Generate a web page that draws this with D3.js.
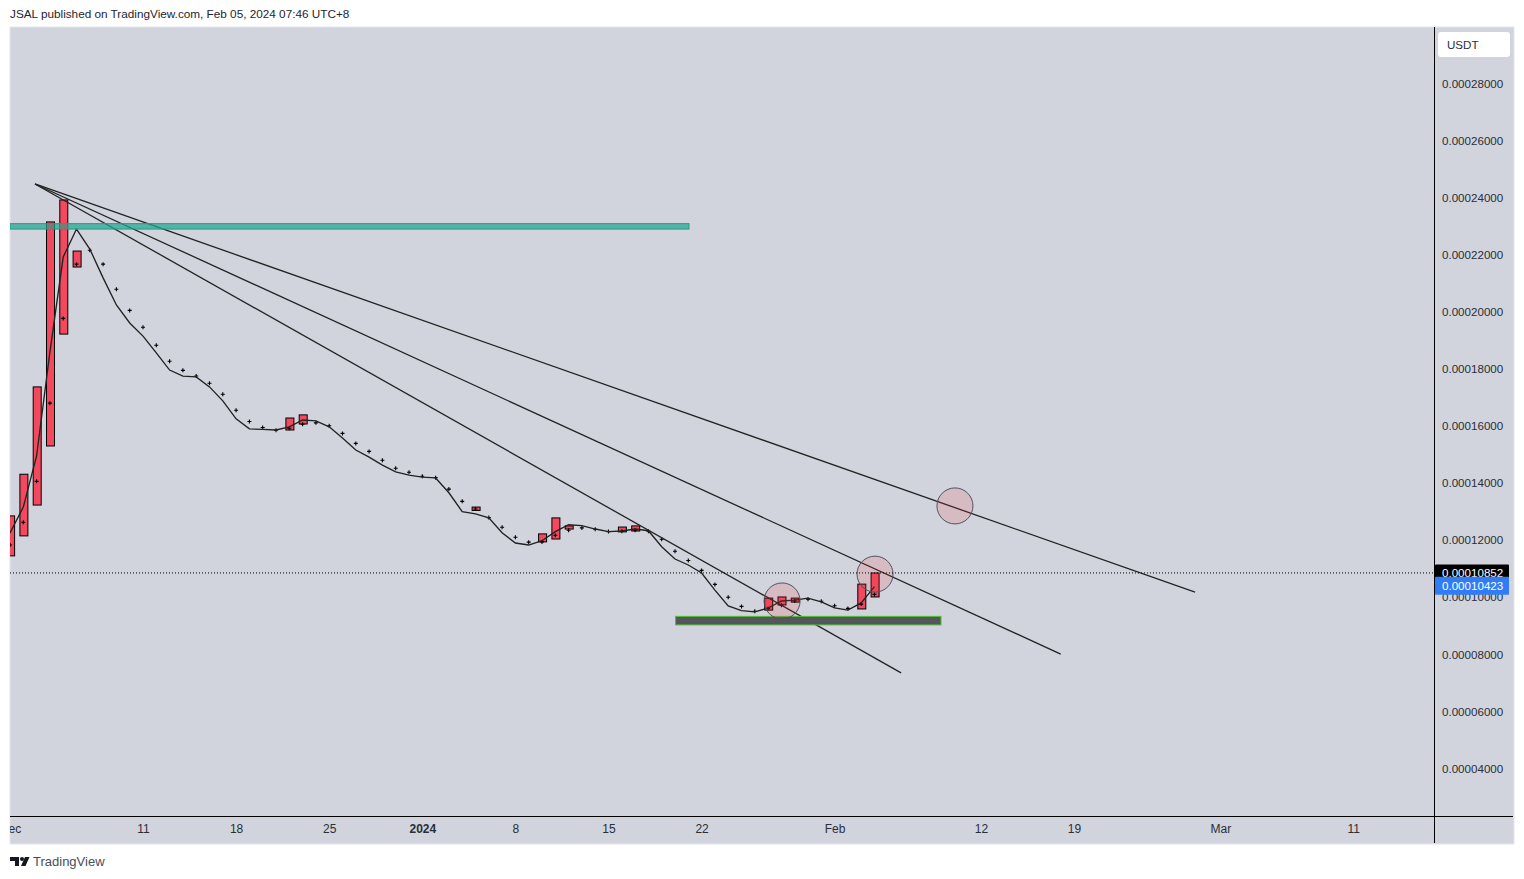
<!DOCTYPE html>
<html>
<head>
<meta charset="utf-8">
<script src="https://cdn.jsdelivr.net/npm/d3@7"></script>
<style>
  html, body { margin: 0; padding: 0; background: #fff; overflow: hidden; }
  text { font-family: "Liberation Sans", sans-serif; }
</style>
</head>
<body>
<div id="chart"></div>
<script>
// prices below are in units of 1e-5 USDT, days are counted from Dec 1 2023
var lineValues = [12.25,13.16,14.95,18.59,21.92,22.90,22.20,21.19,20.24,19.61,
    19.15,18.56,17.96,17.75,17.72,17.37,16.88,16.25,15.90,15.88,
    15.86,15.97,16.21,16.18,15.97,15.58,15.16,14.91,14.63,14.39,
    14.28,14.21,14.18,13.66,13.00,12.92,12.78,12.26,11.90,11.83,
    11.98,12.30,12.54,12.51,12.39,12.30,12.32,12.39,12.33,11.77,
    11.34,11.13,10.85,10.25,9.70,9.53,9.49,9.62,9.87,9.90,
    9.97,9.84,9.63,9.55,9.80,10.37];

var crossValues = [11.83,12.63,14.06,16.80,19.77,21.67,22.16,21.67,20.79,20.05,
    19.46,18.83,18.27,17.95,17.75,17.50,17.11,16.55,16.16,15.95,
    15.85,15.92,16.06,16.11,16.01,15.74,15.39,15.11,14.80,14.52,
    14.38,14.24,14.19,13.79,13.36,13.09,12.79,12.45,12.10,11.93,
    11.94,12.17,12.35,12.43,12.38,12.30,12.31,12.35,12.31,12.03,
    11.61,11.29,10.94,10.45,10.00,9.68,9.51,9.61,9.72,9.87,
    9.93,9.86,9.70,9.61,9.76,10.10];

var candleDays = [0,1,2,3,4,5,21,22,35,40,41,42,46,47,57,58,59,64,65];
var candleTops = [12.85,14.31,17.37,23.15,23.92,22.13,16.28,16.39,13.16,12.22,12.78,12.50,12.46,12.50,9.97,10.01,9.97,10.46,10.85];
var candleBottoms = [11.45,12.15,13.23,15.30,19.22,21.57,15.86,16.07,13.04,11.94,12.04,12.39,12.29,12.32,9.55,9.73,9.83,9.59,10.01];

var trendStart = [1.88, 24.48];
var trendEndDays = [67.0, 79.0, 89.1];
var trendEndPrices = [7.35, 8.01, 10.18];

var circleDays = [58.05, 65.04, 71.05];
var circlePrices = [9.87, 10.81, 13.20];

var resistanceBand = [0, 51.05, 23.09, 22.90];
var supportBand = [50.04, 70.0, 9.33, 9.03];

var priceTicks = [4,6,8,10,12,14,16,18,20,22,24,26,28];
var timeTickDays = [0,10,17,24,31,38,45,52,62,73,80,91,101];
var timeTickLabels = ['Dec','11','18','25','2024','8','15','22','Feb','12','19','Mar','11'];

var lastClose = 10.852;
var lastPrice = 10.423;

var start = Date.UTC(2023, 11, 1);
var dayMs = 86400000;
function dayDate(d) { return new Date(start + d * dayMs); }

var paneLeft = 10, paneRight = 1514, paneTop = 27, paneBottom = 844;
var plotRight = 1434, plotBottom = 816;

var x = d3.scaleUtc().domain([dayDate(0), dayDate(100)]).range([10, 1340]);
var y = d3.scaleLinear().domain([28, 4]).range([83.5, 768.5]);
function xd(d) { return x(dayDate(d)); }

var svg = d3.select('#chart').append('svg')
    .attr('width', 1524)
    .attr('height', 879)
    .style('display', 'block');

svg.append('text')
    .attr('x', 10).attr('y', 18)
    .attr('font-size', 11.75)
    .attr('fill', '#1f2430')
    .text('JSAL published on TradingView.com, Feb 05, 2024 07:46 UTC+8');

svg.append('rect')
    .attr('x', paneLeft).attr('y', paneTop)
    .attr('width', paneRight - paneLeft).attr('height', paneBottom - paneTop)
    .attr('fill', '#d1d4dc')
    .attr('stroke', '#e4e6eb');

var defs = svg.append('defs');
defs.append('clipPath').attr('id', 'plot').append('rect')
    .attr('x', paneLeft).attr('y', paneTop)
    .attr('width', plotRight - paneLeft).attr('height', plotBottom - paneTop);
defs.append('clipPath').attr('id', 'timeClip').append('rect')
    .attr('x', paneLeft).attr('y', plotBottom)
    .attr('width', plotRight - paneLeft).attr('height', paneBottom - plotBottom);
defs.append('clipPath').attr('id', 'bandClip').append('rect')
    .attr('x', xd(resistanceBand[0])).attr('y', y(resistanceBand[2]))
    .attr('width', xd(resistanceBand[1]) - xd(resistanceBand[0]))
    .attr('height', y(resistanceBand[3]) - y(resistanceBand[2]));

var plot = svg.append('g').attr('clip-path', 'url(#plot)');

// Candles
var candles = candleDays.map(function(d, i) {
    return {day: d, top: candleTops[i], bottom: candleBottoms[i]};
});
var candleWidth = 8;
var candleShift = 0.6;

plot.selectAll('.candle')
    .data(candles)
    .enter().append('rect')
    .attr('class', 'candle')
    .attr('x', d => xd(d.day) + candleShift - candleWidth / 2)
    .attr('y', d => y(d.top))
    .attr('width', candleWidth)
    .attr('height', d => y(d.bottom) - y(d.top))
    .attr('fill', '#f2495e')
    .attr('stroke', '#000')
    .attr('stroke-width', 1);

// Crosses
plot.selectAll('.cross')
    .data(crossValues)
    .enter().append('path')
    .attr('class', 'cross')
    .attr('transform', (d, i) => 'translate(' + xd(i) + ',' + y(d) + ')')
    .attr('d', 'M-2,0H2M0,-2V2')
    .attr('stroke', '#000')
    .attr('stroke-width', 1.1)
    .attr('fill', 'none');

// Moving average
plot.append('path')
    .datum(lineValues)
    .attr('d', d3.line().x((d, i) => xd(i)).y(d => y(d)))
    .attr('fill', 'none')
    .attr('stroke', '#222')
    .attr('stroke-width', 1.35);

// Trend lines
plot.selectAll('.trend')
    .data(trendEndDays)
    .enter().append('line')
    .attr('class', 'trend')
    .attr('x1', xd(trendStart[0]))
    .attr('y1', y(trendStart[1]))
    .attr('x2', d => xd(d))
    .attr('y2', (d, i) => y(trendEndPrices[i]))
    .attr('stroke', '#222')
    .attr('stroke-width', 1.3);

// Support and resistance boxes
plot.append('rect')
    .attr('x', xd(supportBand[0])).attr('y', y(supportBand[2]))
    .attr('width', xd(supportBand[1]) - xd(supportBand[0]))
    .attr('height', y(supportBand[3]) - y(supportBand[2]))
    .attr('fill', '#55555d')
    .attr('stroke', '#4cc42c')
    .attr('stroke-width', 1);

plot.append('rect')
    .attr('x', xd(resistanceBand[0])).attr('y', y(resistanceBand[2]))
    .attr('width', xd(resistanceBand[1]) - xd(resistanceBand[0]))
    .attr('height', y(resistanceBand[3]) - y(resistanceBand[2]))
    .attr('fill', 'rgba(38,166,146,0.72)')
    .attr('stroke', '#1d9c87')
    .attr('stroke-width', 1);

plot.append('g')
    .attr('clip-path', 'url(#bandClip)')
    .selectAll('rect')
    .data(candles)
    .enter().append('rect')
    .attr('x', d => xd(d.day) + candleShift - candleWidth / 2 + 0.5)
    .attr('y', d => y(d.top) + 1.5)
    .attr('width', candleWidth - 1)
    .attr('height', d => y(d.bottom) - y(d.top))
    .attr('fill', '#7d7a75');

// Circles
plot.selectAll('.mark')
    .data(circleDays)
    .enter().append('circle')
    .attr('class', 'mark')
    .attr('cx', d => xd(d))
    .attr('cy', (d, i) => y(circlePrices[i]))
    .attr('r', 18)
    .attr('fill', 'rgba(242,54,69,0.16)')
    .attr('stroke', '#50535e')
    .attr('stroke-width', 1);

// Last price dotted line
plot.append('line')
    .attr('x1', paneLeft).attr('x2', plotRight)
    .attr('y1', y(lastClose)).attr('y2', y(lastClose))
    .attr('stroke', '#000')
    .attr('stroke-width', 1)
    .attr('stroke-dasharray', '1,2');

// Axes
var xAxis = d3.axisBottom(x)
    .tickValues(timeTickDays.map(dayDate))
    .tickFormat((d, i) => timeTickLabels[i])
    .tickSize(0)
    .tickPadding(8.5);

var timeAxis = svg.append('g')
    .attr('clip-path', 'url(#timeClip)')
    .append('g')
    .attr('transform', 'translate(0,' + plotBottom + ')')
    .call(xAxis);
timeAxis.select('.domain').remove();
timeAxis.selectAll('text')
    .attr('font-size', 12)
    .attr('fill', '#2a2e39')
    .attr('font-weight', (d, i) => timeTickLabels[i] === '2024' ? 'bold' : null);

var yAxis = d3.axisRight(y)
    .tickValues(priceTicks)
    .tickFormat(d => (d * 1e-5).toFixed(8))
    .tickSize(0)
    .tickPadding(8);

var priceAxis = svg.append('g')
    .attr('transform', 'translate(' + plotRight + ',0)')
    .call(yAxis);
priceAxis.select('.domain').remove();
priceAxis.selectAll('text')
    .attr('font-size', 11.6)
    .attr('fill', '#2a2e39');

svg.append('line')
    .attr('x1', plotRight + 0.5).attr('x2', plotRight + 0.5)
    .attr('y1', paneTop).attr('y2', paneBottom - 1)
    .attr('stroke', '#000');
svg.append('line')
    .attr('x1', paneLeft).attr('x2', paneRight - 1)
    .attr('y1', plotBottom + 0.5).attr('y2', plotBottom + 0.5)
    .attr('stroke', '#000');

// Price labels, the blue one sits on top of the black one
function priceLabel(value, color) {
    var boxHeight = 18;
    var cy = y(value) + 0.5;
    svg.append('rect')
        .attr('x', plotRight + 1).attr('y', cy - boxHeight / 2)
        .attr('width', 74).attr('height', boxHeight)
        .attr('rx', 1)
        .attr('fill', color);
    svg.append('text')
        .attr('x', plotRight + 8).attr('y', cy + 4)
        .attr('font-size', 11.6)
        .attr('fill', '#fff')
        .text((value * 1e-5).toFixed(8));
}
priceLabel(lastClose, '#000');
priceLabel(lastPrice, '#2f7cf6');

// USDT button
svg.append('rect')
    .attr('x', 1438).attr('y', 32)
    .attr('width', 72).attr('height', 25)
    .attr('rx', 3)
    .attr('fill', '#fff');
svg.append('text')
    .attr('x', 1447).attr('y', 49)
    .attr('font-size', 11.6)
    .attr('fill', '#2a2e39')
    .text('USDT');

// TradingView logo
var logo = svg.append('g').attr('fill', '#131722');
logo.append('path').attr('d', 'M10,857H19V866H15V861H10Z');
logo.append('circle').attr('cx', 22).attr('cy', 859).attr('r', 2);
logo.append('path').attr('d', 'M25,857H29.5L25.5,866H21Z');
svg.append('text')
    .attr('x', 33).attr('y', 866)
    .attr('font-size', 13)
    .attr('fill', '#4a4e59')
    .text('TradingView');
</script>
</body>
</html>
